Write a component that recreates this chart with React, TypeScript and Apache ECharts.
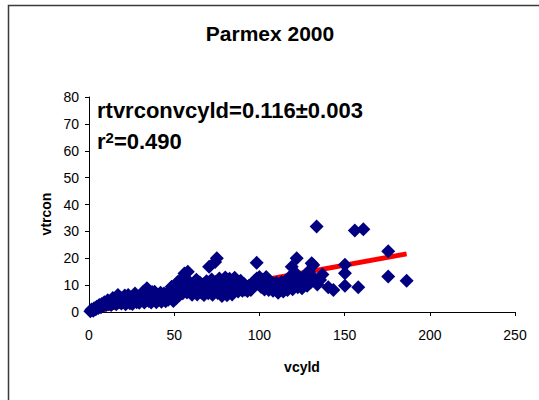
import React, { useEffect, useRef } from "react";
import * as echarts from "echarts";

// Chart labels
const chartTitle = "Parmex 2000";
const xAxisName = "vcyld";
const yAxisName = "vtrcon";

// Axis scales
const xMin = 0;
const xMax = 250;
const xStep = 50;
const yMin = 0;
const yMax = 80;
const yStep = 10;

// Fitted regression through the origin: vtrcon = slope * vcyld
const slope = 0.116;
const slopeErr = 0.003;
const rSquared = 0.49;

// Observations [vcyld, vtrcon], grouped by vcyld range
const obsUnder20: [number, number][] = [
  [0.8, 0.3], [1.5, 0.9], [2.5, 0.5], [3, 1.4], [4, 1.0], [4.5, 2.0], [5.5, 1.5],
  [6, 2.6], [7, 1.8], [7.5, 3.0], [8.5, 2.3], [9, 3.6], [10, 2.6],
  [11, 4.4], [11.5, 3.0], [12.5, 3.8], [13, 2.6], [14, 5.2], [14.5, 3.4],
  [15.5, 4.4], [16, 2.9], [17, 6.3], [17.5, 4.0], [18.5, 5.3], [19, 3.2], [20, 4.6],
];

const obs20to40: [number, number][] = [
  [21, 6.1], [21.5, 2.9], [22.5, 4.2], [23, 6.3], [24, 3.3], [25, 5.4], [25.5, 3.0],
  [26.5, 4.5], [27, 6.9], [28, 3.6], [28.5, 5.6], [29.5, 3.4], [30, 6.2],
  [31, 4.4], [32, 7.6], [32.5, 3.5], [33.5, 5.8], [34, 8.8], [35, 4.1], [35.5, 6.7],
  [36.5, 3.5], [37, 7.4], [38, 5.0], [38.5, 7.5], [39.5, 3.6], [40, 6.2],
];

const obs40to60: [number, number][] = [
  [41, 4.6], [42, 7.2], [42.5, 3.8], [43.5, 5.6], [44, 6.9], [45, 4.0], [45.5, 6.2],
  [46.5, 4.6], [47, 7.6], [48, 5.2], [48.5, 9.4], [49.5, 4.1], [50, 7.3],
  [51, 5.0], [51.5, 9.0], [52, 11.2], [53, 6.2], [53.5, 8.3], [54.5, 12.5], [55, 7.0],
  [56, 14.3], [56.5, 9.8], [57.5, 7.3], [58, 15.0], [58.5, 11.4], [59.5, 8.6],
];

const obs60to90: [number, number][] = [
  [60.5, 6.4], [61, 10.2], [62, 8.2], [63, 12.0], [63.5, 6.5], [64.5, 9.6], [65, 11.0],
  [66, 7.2], [67, 10.3], [67.5, 6.3], [68.5, 8.8], [69, 11.4], [70, 7.0],
  [70.5, 16.8], [71, 9.6], [72, 12.1], [72.5, 6.4], [73.5, 9.0], [74, 18.6], [74.5, 11.3],
  [75, 20.0], [75.5, 7.1], [76.5, 12.5], [77, 9.5], [78, 6.0], [78.5, 11.0], [79.5, 8.0],
  [80, 12.8], [81, 6.2], [81.5, 10.2], [82.5, 12.4], [83, 8.0], [84, 6.5], [84.5, 10.8],
  [85.5, 12.7], [86, 8.8], [87, 11.2], [87.5, 7.6], [88.5, 9.6], [89, 11.6], [90, 7.9],
];

const obs90to115: [number, number][] = [
  [91, 10.4], [91.5, 8.3], [92.5, 9.3], [93, 7.8], [94, 9.9], [95, 8.2], [96, 10.2],
  [97, 11.5], [98.4, 18.3], [98.5, 12.5], [99, 10.8], [100, 13.0],
  [101, 9.3], [102, 12.0], [103, 8.4], [104, 13.0], [104.5, 10.4], [105.5, 8.2],
  [106, 11.5], [107, 9.0], [108, 7.9], [108.5, 10.6], [109.5, 8.7], [110, 10.9],
  [111, 7.2], [112, 9.4], [113, 11.2], [114, 7.6], [115, 10.0],
];

const obs115to140: [number, number][] = [
  [116, 11.8], [116.5, 8.2], [117.5, 9.9], [118, 13.2], [119, 16.8], [119.5, 8.5],
  [120, 11.2], [121, 14.6], [121.9, 20.0], [122.5, 9.2], [123, 12.3], [124, 10.0],
  [125, 8.8], [126, 11.8], [127, 13.8], [128, 9.8], [129, 15.2], [130, 11.0],
  [130.7, 18.1], [131.6, 17.5], [132, 12.6], [133.6, 31.8], [134, 10.2], [135.6, 11.9],
  [137, 14.0],
];

const obsOver140: [number, number][] = [
  [140.4, 9.2], [143.4, 8.2], [150.2, 17.6], [150.2, 14.4], [150.2, 9.8], [158, 9.2],
  [156, 30.3], [161, 30.8], [175.6, 22.6], [175.6, 13.2], [186.4, 11.6],
];

const observations: [number, number][] = [
  ...obsUnder20,
  ...obs20to40,
  ...obs40to60,
  ...obs60to90,
  ...obs90to115,
  ...obs115to140,
  ...obsOver140,
];

const fontFamily = "'Liberation Sans', Arial, sans-serif";

export default function App() {
  const ref = useRef<HTMLDivElement>(null);

  useEffect(() => {
    if (!ref.current) return;
    const chart = echarts.init(ref.current, undefined, { renderer: "svg" });

    const fitEnd = Math.max(...observations.map((p) => p[0]));
    const fitLine: [number, number][] = [
      [0, 0],
      [fitEnd, slope * fitEnd],
    ];

    chart.setOption({
      animation: false,
      backgroundColor: "#ffffff",
      grid: { left: 89, right: 24, top: 97, bottom: 88, containLabel: false },
      xAxis: {
        type: "value",
        min: xMin,
        max: xMax,
        interval: xStep,
        name: xAxisName,
        nameLocation: "middle",
        nameGap: 48,
        nameTextStyle: { fontFamily, fontSize: 14, fontWeight: "bold", color: "#000" },
        axisLine: { show: true, lineStyle: { color: "#000", width: 1 } },
        axisTick: { show: true, length: 4, lineStyle: { color: "#000" } },
        axisLabel: { fontFamily, fontSize: 14, color: "#000", margin: 16 },
        splitLine: { show: false },
      },
      yAxis: {
        type: "value",
        min: yMin,
        max: yMax,
        interval: yStep,
        axisLine: { show: true, lineStyle: { color: "#000", width: 1 } },
        axisTick: { show: true, length: 4, lineStyle: { color: "#000" } },
        axisLabel: { fontFamily, fontSize: 14, color: "#000", margin: 10 },
        splitLine: { show: false },
      },
      graphic: [
        {
          type: "rect",
          shape: { x: 8.5, y: 5.5, width: 540, height: 400 },
          style: { fill: "none", stroke: "#3a3a3a", lineWidth: 1.5 },
          silent: true,
        },
        {
          type: "text",
          x: 270,
          y: 33,
          style: {
            text: chartTitle,
            fontFamily,
            fontSize: 21,
            fontWeight: "bold",
            fill: "#000",
            align: "center",
            verticalAlign: "middle",
          },
        },
        {
          type: "text",
          x: 46,
          y: 214,
          rotation: Math.PI / 2,
          style: {
            text: yAxisName,
            fontFamily,
            fontSize: 14,
            fontWeight: "bold",
            fill: "#000",
            align: "center",
            verticalAlign: "middle",
          },
        },
        {
          type: "text",
          x: 97,
          y: 110,
          z: 10,
          style: {
            text: `rtvrconvcyld=${slope.toFixed(3)}±${slopeErr.toFixed(3)}`,
            fontFamily,
            fontSize: 22,
            fontWeight: "bold",
            fill: "#000",
            align: "left",
            verticalAlign: "middle",
          },
        },
        {
          type: "text",
          x: 97,
          y: 141,
          z: 10,
          style: {
            text: `r{sup|2}=${rSquared.toFixed(3)}`,
            fontFamily,
            fontSize: 22,
            fontWeight: "bold",
            fill: "#000",
            align: "left",
            verticalAlign: "middle",
            rich: {
              sup: {
                fontFamily,
                fontSize: 15,
                fontWeight: "bold",
                fill: "#000",
                verticalAlign: "top",
              },
            },
          },
        },
      ],
      series: [
        {
          type: "line",
          data: fitLine,
          symbol: "none",
          z: 1,
          lineStyle: { color: "#ff0000", width: 5 },
        },
        {
          type: "scatter",
          data: observations,
          symbol: "diamond",
          symbolSize: 14,
          z: 2,
          itemStyle: { color: "#000080", opacity: 1 },
        },
      ],
    });

    return () => chart.dispose();
  }, []);

  return (
    <div
      ref={ref}
      style={{ position: "fixed", left: 0, top: 0, width: 539, height: 400 }}
    />
  );
}
